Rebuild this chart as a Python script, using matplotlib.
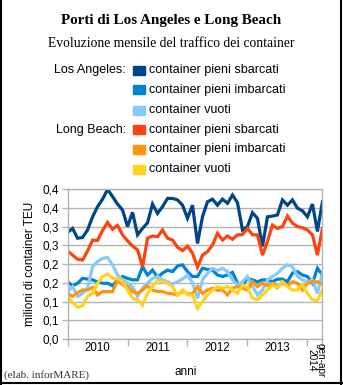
import matplotlib.pyplot as plt
from matplotlib.lines import Line2D
from matplotlib.patches import Rectangle
from matplotlib.ticker import FixedLocator, FuncFormatter
from decimal import Decimal, ROUND_HALF_UP

# monthly values, gen 2010 - apr 2014 (milioni di TEU)
la_sbarcati = [0.284, 0.295, 0.269, 0.271, 0.291, 0.326, 0.353, 0.373, 0.399, 0.380,
               0.360, 0.344, 0.300, 0.338, 0.278, 0.295, 0.310, 0.360, 0.335, 0.353,
               0.375, 0.375, 0.371, 0.357, 0.322, 0.357, 0.255, 0.326, 0.366, 0.373,
               0.357, 0.373, 0.362, 0.384, 0.364, 0.291, 0.300, 0.337, 0.322, 0.247,
               0.326, 0.328, 0.331, 0.371, 0.357, 0.371, 0.349, 0.342, 0.326, 0.360,
               0.287, 0.366]
la_imbarcati = [0.153, 0.142, 0.149, 0.162, 0.160, 0.158, 0.153, 0.149, 0.149, 0.142,
                0.158, 0.167, 0.162, 0.158, 0.158, 0.193, 0.171, 0.184, 0.165, 0.176,
                0.184, 0.180, 0.195, 0.198, 0.180, 0.167, 0.167, 0.189, 0.186, 0.184,
                0.171, 0.167, 0.171, 0.178, 0.149, 0.145, 0.162, 0.158, 0.153, 0.158,
                0.158, 0.153, 0.160, 0.160, 0.153, 0.176, 0.180, 0.171, 0.167, 0.149,
                0.189, 0.171]
la_vuoti = [0.127, 0.140, 0.114, 0.122, 0.136, 0.193, 0.207, 0.215, 0.218, 0.198,
            0.171, 0.158, 0.149, 0.140, 0.114, 0.136, 0.149, 0.162, 0.167, 0.158,
            0.153, 0.147, 0.153, 0.160, 0.171, 0.150, 0.109, 0.158, 0.176, 0.189,
            0.183, 0.189, 0.180, 0.158, 0.145, 0.153, 0.167, 0.140, 0.118, 0.131,
            0.158, 0.167, 0.176, 0.189, 0.198, 0.193, 0.167, 0.158, 0.153, 0.158,
            0.122, 0.176]
lb_sbarcati = [0.235, 0.224, 0.213, 0.211, 0.235, 0.264, 0.263, 0.290, 0.311, 0.293,
               0.303, 0.278, 0.262, 0.248, 0.238, 0.193, 0.269, 0.275, 0.273, 0.291,
               0.269, 0.264, 0.245, 0.236, 0.248, 0.229, 0.192, 0.224, 0.233, 0.251,
               0.282, 0.264, 0.275, 0.266, 0.278, 0.279, 0.295, 0.278, 0.278, 0.224,
               0.260, 0.304, 0.295, 0.300, 0.328, 0.309, 0.300, 0.297, 0.291, 0.278,
               0.224, 0.295]
lb_imbarcati = [0.122, 0.114, 0.124, 0.131, 0.131, 0.138, 0.118, 0.127, 0.127, 0.127,
                0.158, 0.145, 0.140, 0.127, 0.122, 0.131, 0.142, 0.131, 0.127, 0.127,
                0.122, 0.121, 0.118, 0.127, 0.121, 0.121, 0.140, 0.122, 0.131, 0.136,
                0.130, 0.131, 0.118, 0.136, 0.140, 0.136, 0.131, 0.153, 0.140, 0.149,
                0.142, 0.149, 0.140, 0.149, 0.142, 0.153, 0.149, 0.131, 0.149, 0.153,
                0.153, 0.147]
lb_vuoti = [0.114, 0.098, 0.085, 0.089, 0.114, 0.122, 0.149, 0.167, 0.174, 0.162,
            0.162, 0.153, 0.131, 0.109, 0.105, 0.091, 0.122, 0.140, 0.158, 0.153,
            0.149, 0.140, 0.118, 0.131, 0.118, 0.118, 0.082, 0.100, 0.118, 0.131,
            0.140, 0.136, 0.140, 0.131, 0.122, 0.145, 0.138, 0.109, 0.105, 0.118,
            0.131, 0.145, 0.136, 0.153, 0.140, 0.131, 0.131, 0.145, 0.122, 0.105,
            0.103, 0.131]

year_labels = ['2010', '2011', '2012', '2013']
last_label = 'gen-apr\n2014'
series = [
    ('Los Angeles:', 'container pieni sbarcati', la_sbarcati, '#004586'),
    ('', 'container pieni imbarcati', la_imbarcati, '#0084d1'),
    ('', 'container vuoti', la_vuoti, '#83caff'),
    ('Long Beach:', 'container pieni sbarcati', lb_sbarcati, '#ff420e'),
    ('', 'container pieni imbarcati', lb_imbarcati, '#ff950e'),
    ('', 'container vuoti', lb_vuoti, '#ffd320'),
]

sans = ['Liberation Sans', 'DejaVu Sans']
serif = ['Liberation Serif', 'DejaVu Serif']

fig = plt.figure(figsize=(3.43, 3.85), dpi=100)
fig.patch.set_facecolor('white')

ax = fig.add_axes([0.197, 0.119, 0.743, 0.390])
months = list(range(len(la_sbarcati)))
for _, _, values, color in series:
    ax.plot(months, values, color=color, lw=2.3, solid_joinstyle='miter')

ax.set_xlim(0, len(months) - 1)
ax.set_ylim(0, 0.4)

def one_decimal(v, pos):
    d = Decimal(str(round(v, 3))).quantize(Decimal('0.1'), rounding=ROUND_HALF_UP)
    return str(d).replace('.', ',')

ax.yaxis.set_major_locator(FixedLocator([i * 0.05 for i in range(9)]))
ax.yaxis.set_major_formatter(FuncFormatter(one_decimal))
ax.grid(axis='y', color='#b3b3b3', lw=1)
ax.set_axisbelow(True)

# year boundaries as ticks, labels centred between them
bounds = [0, 12, 24, 36, 48, len(months) - 1]
ax.set_xticks(bounds)
ax.set_xticklabels([])
ax.tick_params(axis='x', length=5, color='#b3b3b3', width=1)
ax.tick_params(axis='y', length=4, color='#b3b3b3', width=1, pad=2,
               labelsize=8.5)
for lab in ax.get_yticklabels():
    lab.set_family(sans)
for i, lab in enumerate(year_labels):
    ax.text((bounds[i] + bounds[i + 1]) / 2, -0.02, lab, ha='center', va='top',
            fontsize=8.3, family=sans, transform=ax.get_xaxis_transform())
ax.text((bounds[4] + bounds[5]) / 2 + 0.2, -0.025, last_label, ha='center',
        va='top', rotation=-90, fontsize=7.2, family=sans, linespacing=0.9,
        multialignment='center', transform=ax.get_xaxis_transform())

for side in ['top', 'right', 'left', 'bottom']:
    ax.spines[side].set_color('#b3b3b3')
    ax.spines[side].set_linewidth(1)

ax.set_ylabel('milioni di container TEU', fontsize=8.5, family=sans,
              labelpad=5)
fig.text(0.542, 0.034, 'anni', ha='center', va='center', fontsize=8.5,
         family=sans)
fig.text(0.012, 0.026, '(elab. inforMARE)', ha='left', va='center',
         fontsize=8, family=serif, color='#333333')

fig.text(0.5, 0.948, 'Porti di Los Angeles e Long Beach', ha='center',
         va='center', fontsize=10.9, fontweight='bold', family=serif)
fig.text(0.5, 0.886, 'Evoluzione mensile del traffico dei container',
         ha='center', va='center', fontsize=9.8, family=serif)

# legend grouped by port
row_y = [70, 90, 110, 129.5, 149, 169]
for (group, label, _, color), y in zip(series, row_y):
    fy = 1 - y / 385
    if group:
        fig.text(126 / 343, fy, group, ha='right', va='center', fontsize=9,
                 family=sans)
    fig.patches.append(Rectangle((133 / 343, fy - 4.5 / 385), 12 / 343, 9 / 385,
                                 transform=fig.transFigure, color=color))
    fig.text(149 / 343, fy, label, ha='left', va='center', fontsize=9,
             family=sans)

# frame around the picture
for xs, ys in [([0.002, 0.002], [0, 1]), ([0.993, 0.993], [0, 1]),
               ([0, 1], [0.006, 0.006])]:
    fig.add_artist(Line2D(xs, ys, color='black', lw=1.5,
                          transform=fig.transFigure))

fig.savefig('out.png', dpi=100)
